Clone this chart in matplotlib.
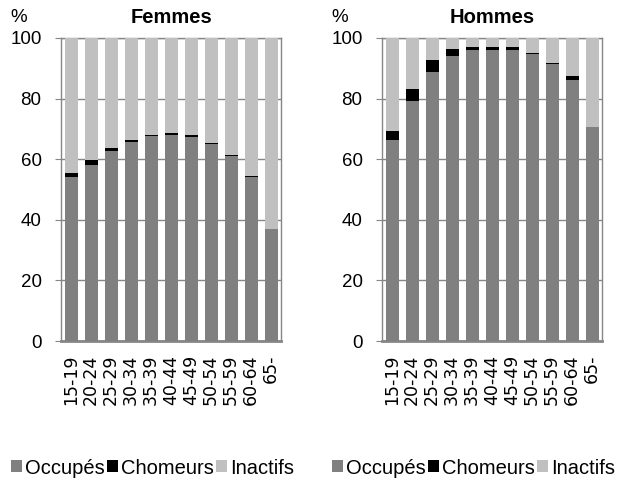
import matplotlib.pyplot as plt
import numpy as np

ages = ['15-19', '20-24', '25-29', '30-34', '35-39', '40-44',
        '45-49', '50-54', '55-59', '60-64', '65-']

# Femmes
f_occ = [54.0, 58.1, 62.8, 65.8, 67.5, 68.1, 67.4, 65.1, 60.9, 54.0, 37.0]
f_cho = [1.6, 1.6, 1.0, 0.5, 0.5, 0.4, 0.5, 0.4, 0.5, 0.4, 0.1]
# Hommes
h_occ = [66.5, 79.3, 88.8, 94.2, 96.0, 96.0, 96.0, 94.8, 91.3, 86.3, 70.6]
h_cho = [2.8, 4.0, 3.9, 2.2, 1.0, 1.0, 1.0, 0.4, 0.4, 1.1, 0.1]

f_ina = [100 - a - b for a, b in zip(f_occ, f_cho)]
h_ina = [100 - a - b for a, b in zip(h_occ, h_cho)]

c_occ = '#808080'
c_cho = '#000000'
c_ina = '#c0c0c0'
grey = '#868686'

plt.rcParams['font.family'] = ['Liberation Sans', 'DejaVu Sans']

fig = plt.figure(figsize=(6.18, 4.78), dpi=100)

panels = [
    ('Femmes', f_occ, f_cho, f_ina, 61 / 618, 10 / 618, 11 / 618),
    ('Hommes', h_occ, h_cho, h_ina, 382 / 618, 331 / 618, 332 / 618),
]

for title, occ, cho, ina, left, pct_x, leg_x in panels:
    ax = fig.add_axes([left, 137 / 478, 220 / 618, 303 / 478])
    x = np.arange(len(ages))
    b1 = ax.bar(x, occ, 0.65, color=c_occ, label='Occupés', zorder=3)
    b2 = ax.bar(x, cho, 0.65, bottom=occ, color=c_cho, label='Chomeurs', zorder=3)
    bot = [a + b for a, b in zip(occ, cho)]
    b3 = ax.bar(x, ina, 0.65, bottom=bot, color=c_ina, label='Inactifs', zorder=3)

    ax.set_xlim(-0.5, len(ages) - 0.5)
    ax.set_ylim(0, 100)
    ax.set_yticks(range(0, 101, 20))
    ax.yaxis.grid(True, color=grey, linewidth=1)
    ax.set_axisbelow(True)
    for s in ax.spines.values():
        s.set_color(grey)
        s.set_linewidth(1)
    ax.spines['bottom'].set_linewidth(2)
    ax.tick_params(axis='y', length=4, color=grey, pad=10, labelsize=13.5)
    ax.set_xticks(x)
    ax.set_xticklabels(ages, rotation=90, fontsize=12.5, family='DejaVu Sans')
    ax.tick_params(axis='x', length=0, pad=10)
    ax.set_title(title, fontsize=14.5, fontweight='bold', pad=11)

    fig.text(pct_x, 1 - 17 / 478, '%', fontsize=13.5, va='center', ha='left')

    fig.legend(handles=[b1, b2, b3], loc='center left',
               bbox_to_anchor=(leg_x, 1 - 468 / 478), ncol=3, frameon=False,
               fontsize=14.5, handlelength=0.55, handleheight=0.55,
               handletextpad=0.15, columnspacing=0.1, borderpad=0,
               borderaxespad=0)

plt.savefig('out.png', dpi=100)
